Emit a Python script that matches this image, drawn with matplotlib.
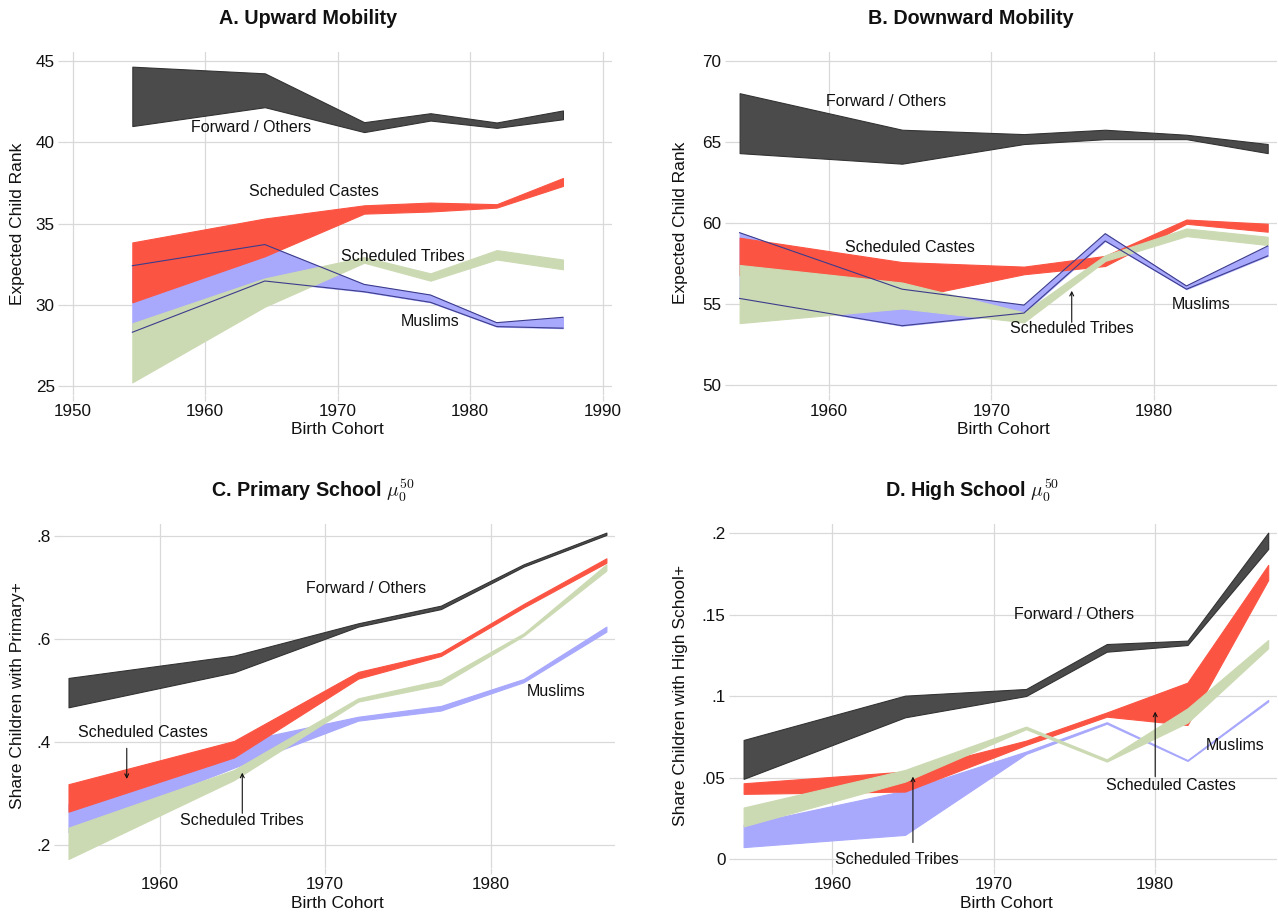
import matplotlib
matplotlib.use("Agg")
import matplotlib.pyplot as plt

plt.rcParams['font.family'] = ['Liberation Sans', 'DejaVu Sans']
plt.rcParams['mathtext.fontset'] = 'cm'

# ---------------- data ----------------
cohort = [1954.5, 1964.5, 1972, 1977, 1982, 1987]

# Panel A: Upward mobility (expected child rank)
fwd_hi_A = [44.65, 44.24, 41.24, 41.79, 41.22, 41.96]
fwd_lo_A = [41.00, 42.16, 40.63, 41.34, 40.89, 41.42]
sc_hi_A = [33.85, 35.32, 36.13, 36.30, 36.20, 37.81]
sc_lo_A = [30.17, 33.00, 35.62, 35.75, 35.99, 37.32]
st_hi_A = [28.88, 31.64, 32.95, 31.95, 33.38, 32.80]
st_lo_A = [25.25, 29.90, 32.60, 31.50, 32.80, 32.20]
mu_hi_A = [32.42, 33.72, 31.27, 30.62, 28.92, 29.25]
mu_lo_A = [28.33, 31.48, 30.82, 30.17, 28.68, 28.58]

# Panel B: Downward mobility
fwd_hi_B = [68.00, 65.75, 65.48, 65.75, 65.44, 64.87]
fwd_lo_B = [64.31, 63.66, 64.87, 65.17, 65.17, 64.31]
sc_hi_B = [59.10, 57.60, 57.32, 57.98, 60.22, 59.96]
sc_lo_B = [56.80, 55.30, 56.85, 57.36, 59.96, 59.47]
st_hi_B = [57.42, 56.34, 54.50, 58.02, 59.67, 59.16]
st_lo_B = [53.84, 54.74, 53.89, 57.67, 59.20, 58.65]
mu_hi_B = [59.41, 55.93, 54.95, 59.35, 56.13, 58.59]
mu_lo_B = [55.36, 53.68, 54.46, 58.90, 55.93, 57.98]

# Panel C: Primary school
fwd_hi_C = [0.5243, 0.5676, 0.6304, 0.6647, 0.7450, 0.8065]
fwd_lo_C = [0.4673, 0.5353, 0.6240, 0.6580, 0.7405, 0.8020]
sc_hi_C = [0.3180, 0.4020, 0.5360, 0.5735, 0.6680, 0.7566]
sc_lo_C = [0.2647, 0.3700, 0.5230, 0.5670, 0.6610, 0.7480]
st_hi_C = [0.2337, 0.3456, 0.4848, 0.5204, 0.6110, 0.7450]
st_lo_C = [0.1728, 0.3260, 0.4783, 0.5107, 0.6060, 0.7327]
mu_hi_C = [0.2800, 0.3980, 0.4490, 0.4700, 0.5223, 0.6240]
mu_lo_C = [0.2250, 0.3500, 0.4414, 0.4610, 0.5160, 0.6143]

# Panel D: High school
fwd_hi_D = [0.0731, 0.1003, 0.1044, 0.1320, 0.1341, 0.2004]
fwd_lo_D = [0.0492, 0.0870, 0.1001, 0.1273, 0.1314, 0.1904]
sc_hi_D = [0.0465, 0.0537, 0.0727, 0.0900, 0.1083, 0.1806]
sc_lo_D = [0.0400, 0.0414, 0.0700, 0.0874, 0.0823, 0.1713]
st_hi_D = [0.0316, 0.0547, 0.0813, 0.0612, 0.0925, 0.1345]
st_lo_D = [0.0200, 0.0475, 0.0797, 0.0598, 0.0837, 0.1294]
mu_hi_D = [0.0210, 0.0420, 0.0660, 0.0840, 0.0608, 0.0977]
mu_lo_D = [0.0073, 0.0148, 0.0645, 0.0831, 0.0602, 0.0967]

titles = ["A. Upward Mobility", "B. Downward Mobility",
          r"C. Primary School $\mu_0^{50}$", r"D. High School $\mu_0^{50}$"]
ylabels = ["Expected Child Rank", "Expected Child Rank",
           "Share Children with Primary+", "Share Children with High School+"]
xlabel = "Birth Cohort"

xticks_A = [1950, 1960, 1970, 1980, 1990]
xticks_BCD = [1960, 1970, 1980]
yticks_A = [25, 30, 35, 40, 45]
yticks_B = [50, 55, 60, 65, 70]
yticks_C = [0.2, 0.4, 0.6, 0.8]
ylabs_C = [".2", ".4", ".6", ".8"]
yticks_D = [0, 0.05, 0.10, 0.15, 0.20]
ylabs_D = ["0", ".05", ".1", ".15", ".2"]

# ---------------- style ----------------
C_FWD = '#4b4b4b'
C_SC = '#fc5443'
C_ST = '#ccdab3'
C_MU = '#a8a8fc'
C_MU_EDGE = '#3c3c8c'
GRID = '#d9d9d9'

W, H = 1278, 914
fig = plt.figure(figsize=(W / 100, H / 100), dpi=100)


def px_axes(l, r, t, b):
    return fig.add_axes([l / W, 1 - b / H, (r - l) / W, (b - t) / H])


def style(ax, xlim, ylim, xt, yt, ylab=None):
    ax.set_xlim(*xlim)
    ax.set_ylim(*ylim)
    ax.set_xticks(xt)
    ax.set_yticks(yt)
    if ylab is not None:
        ax.set_yticklabels(ylab)
    for s in ax.spines.values():
        s.set_visible(False)
    ax.grid(True, color=GRID, lw=0.9)
    ax.set_axisbelow(True)
    ax.tick_params(length=4.3, width=0.9, color=GRID, pad=2.2,
                   labelsize=12.3, labelcolor='#111111')


def bands(ax, d, outline):
    x = cohort
    ax.fill_between(x, d['mu_lo'], d['mu_hi'], facecolor=C_MU,
                    edgecolor=C_MU, lw=0.8, zorder=2)
    ax.fill_between(x, d['sc_lo'], d['sc_hi'], facecolor=C_SC,
                    edgecolor=C_SC, lw=0.8, zorder=3)
    ax.fill_between(x, d['st_lo'], d['st_hi'], facecolor=C_ST,
                    edgecolor=C_ST, lw=0.8, zorder=4)
    ax.fill_between(x, d['fwd_lo'], d['fwd_hi'], facecolor=C_FWD,
                    edgecolor='#333333', lw=0.8, zorder=5)
    if outline:
        ax.plot(x, d['mu_hi'], color=C_MU_EDGE, lw=0.8, zorder=6)
        ax.plot(x, d['mu_lo'], color=C_MU_EDGE, lw=0.8, zorder=6)


def label(ax, x, y, s):
    ax.text(x, y, s, ha='center', va='center', fontsize=11.5, zorder=8,
            color='#111111')


def arrow(ax, x, y0, y1):
    ax.annotate('', xy=(x, y1), xytext=(x, y0),
                arrowprops=dict(arrowstyle='->', lw=0.8, color='#111111',
                                shrinkA=0, shrinkB=0, mutation_scale=7),
                zorder=8)


# ---- Panel A ----
axA = px_axes(63.7, 611.7, 51.7, 395.4)
bands(axA, dict(fwd_hi=fwd_hi_A, fwd_lo=fwd_lo_A, sc_hi=sc_hi_A, sc_lo=sc_lo_A,
                st_hi=st_hi_A, st_lo=st_lo_A, mu_hi=mu_hi_A, mu_lo=mu_lo_A), True)
style(axA, (1949.32, 1990.68), (24.45, 45.57), xticks_A, yticks_A)
label(axA, 1963.46, 40.93, "Forward / Others")
label(axA, 1968.23, 36.95, "Scheduled Castes")
label(axA, 1974.94, 32.97, "Scheduled Tribes")
label(axA, 1976.94, 28.98, "Muslims")

# ---- Panel B ----
axB = px_axes(730.6, 1276.7, 51.7, 394.5)
bands(axB, dict(fwd_hi=fwd_hi_B, fwd_lo=fwd_lo_B, sc_hi=sc_hi_B, sc_lo=sc_lo_B,
                st_hi=st_hi_B, st_lo=st_lo_B, mu_hi=mu_hi_B, mu_lo=mu_lo_B), True)
style(axB, (1953.946, 1987.554), (49.444, 70.556), xticks_BCD, yticks_B)
label(axB, 1963.49, 67.48, "Forward / Others")
label(axB, 1964.98, 58.49, "Scheduled Castes")
label(axB, 1974.94, 53.52, "Scheduled Tribes")
arrow(axB, 1974.94, 53.89, 55.83)
label(axB, 1982.89, 54.97, "Muslims")

# ---- Panel C ----
axC = px_axes(59.5, 615.4, 523.6, 868.0)
bands(axC, dict(fwd_hi=fwd_hi_C, fwd_lo=fwd_lo_C, sc_hi=sc_hi_C, sc_lo=sc_lo_C,
                st_hi=st_hi_C, st_lo=st_lo_C, mu_hi=mu_hi_C, mu_lo=mu_lo_C), False)
style(axC, (1953.956, 1987.544), (0.1553, 0.8240), xticks_BCD, yticks_C, ylabs_C)
label(axC, 1972.49, 0.6977, "Forward / Others")
label(axC, 1959.0, 0.4181, "Scheduled Castes")
arrow(axC, 1958.02, 0.3877, 0.3282)
label(axC, 1965.0, 0.2473, "Scheduled Tribes")
arrow(axC, 1965.0, 0.2615, 0.3404)
label(axC, 1983.97, 0.4977, "Muslims")

# ---- Panel D ----
axD = px_axes(734.6, 1277.2, 523.7, 868.0)
bands(axD, dict(fwd_hi=fwd_hi_D, fwd_lo=fwd_lo_D, sc_hi=sc_hi_D, sc_lo=sc_lo_D,
                st_hi=st_hi_D, st_lo=st_lo_D, mu_hi=mu_hi_D, mu_lo=mu_lo_D), False)
style(axD, (1953.942, 1987.558), (-0.00553, 0.2059), xticks_BCD, yticks_D, ylabs_D)
label(axD, 1974.98, 0.1499, "Forward / Others")
label(axD, 1980.98, 0.0451, "Scheduled Castes")
arrow(axD, 1980.0, 0.0506, 0.0905)
label(axD, 1964.01, -0.0006, "Scheduled Tribes")
arrow(axD, 1964.99, 0.0101, 0.0506)
label(axD, 1984.94, 0.0696, "Muslims")

# ---- titles & axis labels ----
title_pos = [(308, 18), (971, 18), (313, 491), (972, 491)]
for (tx, ty), t in zip(title_pos, titles):
    fig.text(tx / W, 1 - ty / H, t, ha='center', va='center',
             fontsize=14.2, fontweight='bold', color='#111111')

ylab_pos = [(18, 223.5), (681, 223.1), (18, 695.8), (681, 695.8)]
for (lx, ly), t in zip(ylab_pos, ylabels):
    fig.text(lx / W, 1 - ly / H, t, ha='center', va='center', rotation=90,
             fontsize=12.5, color='#111111')

xlab_pos = [(337.7, 430), (1003.6, 430), (337.5, 903), (1005.9, 903)]
for (lx, ly) in xlab_pos:
    fig.text(lx / W, 1 - ly / H, xlabel, ha='center', va='center',
             fontsize=12.5, color='#111111')

fig.savefig("out.png", dpi=100, facecolor='white')
